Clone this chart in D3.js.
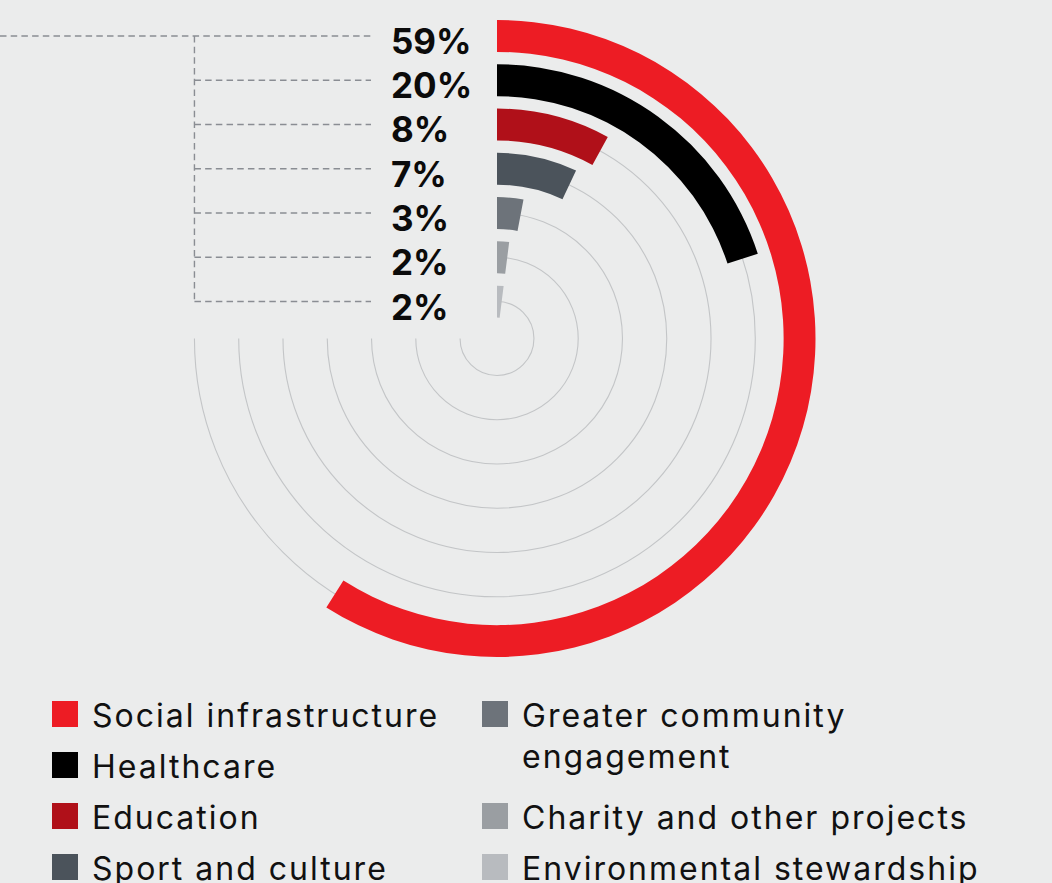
<!DOCTYPE html>
<html>
<head>
<meta charset="utf-8">
<script src="https://cdn.jsdelivr.net/npm/d3@7"></script>
<style>
  html, body { margin: 0; padding: 0; background: #ebecec; }
  svg { display: block; }
</style>
</head>
<body>
<script>
// Share of community investment by area
const categories = [
  "Social infrastructure",
  "Healthcare",
  "Education",
  "Sport and culture",
  "Greater community engagement",
  "Charity and other projects",
  "Environmental stewardship"
];
const values = [59, 20, 8, 7, 3, 2, 2];
const valueLabels = ["59%", "20%", "8%", "7%", "3%", "2%", "2%"];
const colors = ["#ed1c24", "#000000", "#b01019", "#4b535b", "#6d737a", "#9a9ea2", "#b8bbbf"];
const legendLines = [
  ["Social infrastructure"],
  ["Healthcare"],
  ["Education"],
  ["Sport and culture"],
  ["Greater community", "engagement"],
  ["Charity and other projects"],
  ["Environmental stewardship"]
];

const W = 1052, H = 883;
const cx = 497, cy = 338.5;

const svg = d3.select("body").append("svg")
  .attr("width", W).attr("height", H);

svg.append("rect").attr("width", W).attr("height", H).attr("fill", "#ebecec");

// angular scale: percent -> radians, clockwise from 12 o'clock
const angle = d3.scaleLinear().domain([0, 100]).range([0, 2 * Math.PI]);

// radial band scale: first category on the outermost ring
const ring = d3.scaleBand()
  .domain(categories)
  .range([318.5, 21])
  .paddingInner(0.28)
  .paddingOuter(0);

const g = svg.append("g").attr("transform", `translate(${cx},${cy})`);

const mid = d => ring(d) + ring.bandwidth() / 2;

// thin guide tracks through the middle of each ring, 0 to 270 degrees
const track = d3.arc()
  .innerRadius(d => mid(d))
  .outerRadius(d => mid(d))
  .startAngle(0)
  .endAngle(angle(75));

g.selectAll("path.track")
  .data(categories)
  .join("path")
  .attr("class", "track")
  .attr("d", track)
  .attr("fill", "none")
  .attr("stroke", "#c3c5c7")
  .attr("stroke-width", 1.1);

// the bars
const bar = d3.arc()
  .innerRadius((d, i) => ring(categories[i]))
  .outerRadius((d, i) => ring(categories[i]) + ring.bandwidth())
  .startAngle(0)
  .endAngle(d => angle(d));

g.selectAll("path.bar")
  .data(values)
  .join("path")
  .attr("class", "bar")
  .attr("d", bar)
  .attr("fill", (d, i) => colors[i]);

// dashed leader lines to the value labels
const dash = { stroke: "#8a8d93", "stroke-width": 1.4, "stroke-dasharray": "6.5,4.2", fill: "none" };
const leaderX = cx - mid(categories[0]);
const labelX = 391;
const lineEnd = 371;

const leaders = svg.append("g");
categories.forEach((c, i) => {
  const y = cy - mid(c);
  const x0 = i === 0 ? 0 : leaderX;
  const l = leaders.append("line")
    .attr("x1", x0).attr("x2", lineEnd)
    .attr("y1", y).attr("y2", y);
  Object.entries(dash).forEach(([k, v]) => l.attr(k, v));
});
const v = leaders.append("line")
  .attr("x1", leaderX).attr("x2", leaderX)
  .attr("y1", cy - mid(categories[0]))
  .attr("y2", cy - mid(categories[categories.length - 1]));
Object.entries(dash).forEach(([k, val]) => v.attr(k, val));

// value labels
svg.append("g").selectAll("text")
  .data(valueLabels)
  .join("text")
  .attr("x", labelX)
  .attr("y", (d, i) => cy - mid(categories[i]) + 18)
  .attr("font-family", "Inter, 'Open Sans', sans-serif")
  .attr("font-weight", 700)
  .attr("font-size", 35)
  .attr("fill", "#0b0b0b")
  .text(d => d);

// legend: two columns
const legendPos = [
  { x: 52, y: 727 }, { x: 52, y: 778 }, { x: 52, y: 829 }, { x: 52, y: 880 },
  { x: 482, y: 727 }, { x: 482, y: 829 }, { x: 482, y: 880 }
];
const legend = svg.append("g");
categories.forEach((c, i) => {
  const p = legendPos[i];
  legend.append("rect")
    .attr("x", p.x).attr("y", p.y - 26)
    .attr("width", 26).attr("height", 26)
    .attr("fill", colors[i]);
  const t = legend.append("text")
    .attr("x", p.x + 40).attr("y", p.y)
    .attr("font-family", "Inter, 'Open Sans', sans-serif")
    .attr("font-size", 32)
    .attr("letter-spacing", 2)
    .attr("fill", "#111");
  legendLines[i].forEach((line, j) => {
    t.append("tspan")
      .attr("x", p.x + 40)
      .attr("dy", j === 0 ? 0 : 41)
      .text(line);
  });
});
</script>
</body>
</html>
